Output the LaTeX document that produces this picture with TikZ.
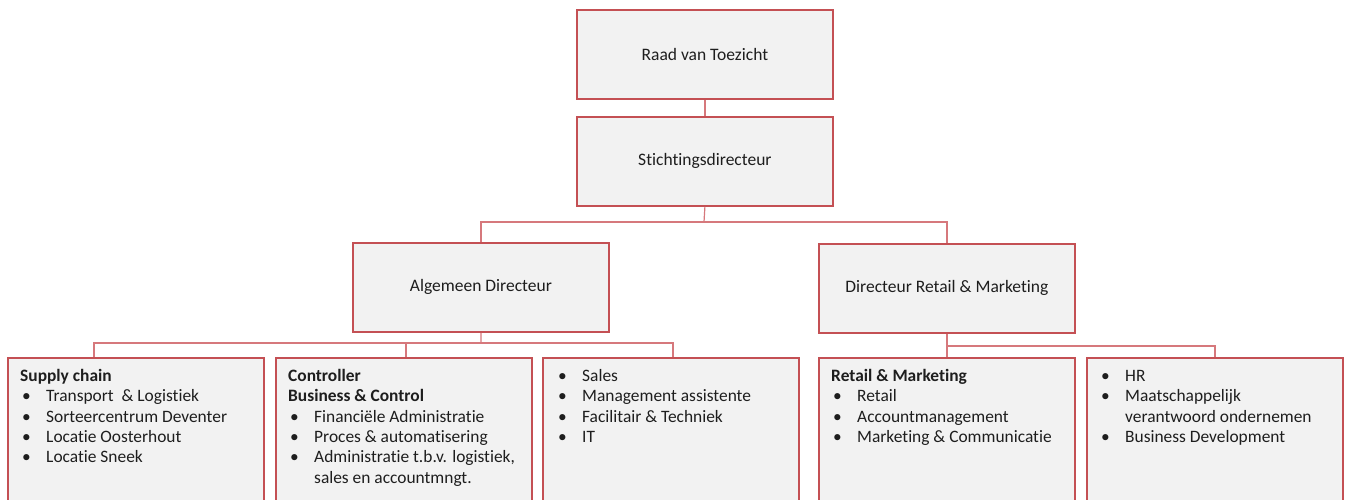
\documentclass[tikz,border=0pt]{standalone}
\usepackage{fontspec}
\setmainfont{Carlito}[Ligatures={NoCommon}]
\definecolor{bordr}{RGB}{196,80,84}
\definecolor{lnred}{RGB}{214,120,124}
\definecolor{boxfill}{RGB}{242,242,242}
\definecolor{txt}{RGB}{30,30,30}
\newcommand{\bul}{\hspace*{2pt}\makebox[24pt][l]{\textbullet}}
\newcommand{\cont}{\hspace*{26pt}}
\newcommand{\fl}{\rule{0pt}{13pt}}
\begin{document}
\begin{tikzpicture}[x=1pt,y=-1pt,
  box/.style={draw=bordr, fill=boxfill, line width=1.8pt, inner sep=0pt,
    minimum width=256pt, minimum height=89pt, anchor=north west, text=txt,
    font=\fontsize{17.5}{20}\selectfont},
  lowbox/.style={box, minimum height=152pt},
  lbl/.style={inner sep=0pt, anchor=north west, align=left, text=txt,
    font=\fontsize{17.4}{20.4}\selectfont},
  link/.style={draw=lnred, line width=1.2pt}]
\useasboundingbox (0,0) rectangle (1346,500);
\clip (0,0) rectangle (1346,500);
\fill[white] (0,0) rectangle (1346,500);

\node[box] (raad) at (576,9) {Raad van Toezicht};
\node[box] (stich) at (576,116) {Stichtingsdirecteur};
\node[box] (ad) at (352,242) {Algemeen Directeur};
\node[box] (drm) at (818,243) {Directeur Retail \& Marketing};

\node[lowbox] (b1) at (7,357) {};
\node[lowbox] (b2) at (275,357) {};
\node[lowbox] (b3) at (542,357) {};
\node[lowbox] (b4) at (818,357) {};
\node[lowbox] (b5) at (1086,357) {};

\coordinate (j1) at (704,222);
\coordinate (j2) at (481,343);
\coordinate (j3) at (947,346);

\draw[link] (raad.south) -- (stich.north);
\draw[link] (stich.south) -- (j1);
\draw[link] (ad.north) |- (j1) -| (drm.north);
\draw[link] (ad.south) -- (j2);
\draw[link] ([xshift=-42pt]b1.north) |- (j2) -| ([xshift=2pt]b3.north);
\draw[link] (j2) -| ([xshift=2pt]b2.north);
\draw[link] (drm.south) -- (b4.north);
\draw[link] (j3) -| (b5.north);

\node[lbl] (t1) at ([shift={(13,11)}]b1.north west) {\fl\textbf{Supply chain}\\
  \bul Transport\ \ \& Logistiek\\
  \bul Sorteercentrum Deventer\\
  \bul Locatie Oosterhout\\
  \bul Locatie Sneek};
\node[lbl] (t2) at ([shift={(13,11)}]b2.north west) {\fl\textbf{Controller}\\
  \textbf{Business \& Control}\\
  \bul Financiële Administratie\\
  \bul Proces \& automatisering\\
  \bul Administratie t.b.v. logistiek,\\
  \cont sales en accountmngt.};
\node[lbl] (t3) at ([shift={(14,11)}]b3.north west) {\fl\bul Sales\\
  \bul Management assistente\\
  \bul Facilitair \& Techniek\\
  \bul IT};
\node[lbl] (t4) at ([shift={(13,11)}]b4.north west) {\fl\textbf{Retail \& Marketing}\\
  \bul Retail\\
  \bul Accountmanagement\\
  \bul Marketing \& Communicatie};
\node[lbl] (t5) at ([shift={(13,11)}]b5.north west) {\fl\bul HR\\
  \bul Maatschappelijk\\
  \cont verantwoord ondernemen\\
  \bul Business Development};
\end{tikzpicture}
\end{document}
